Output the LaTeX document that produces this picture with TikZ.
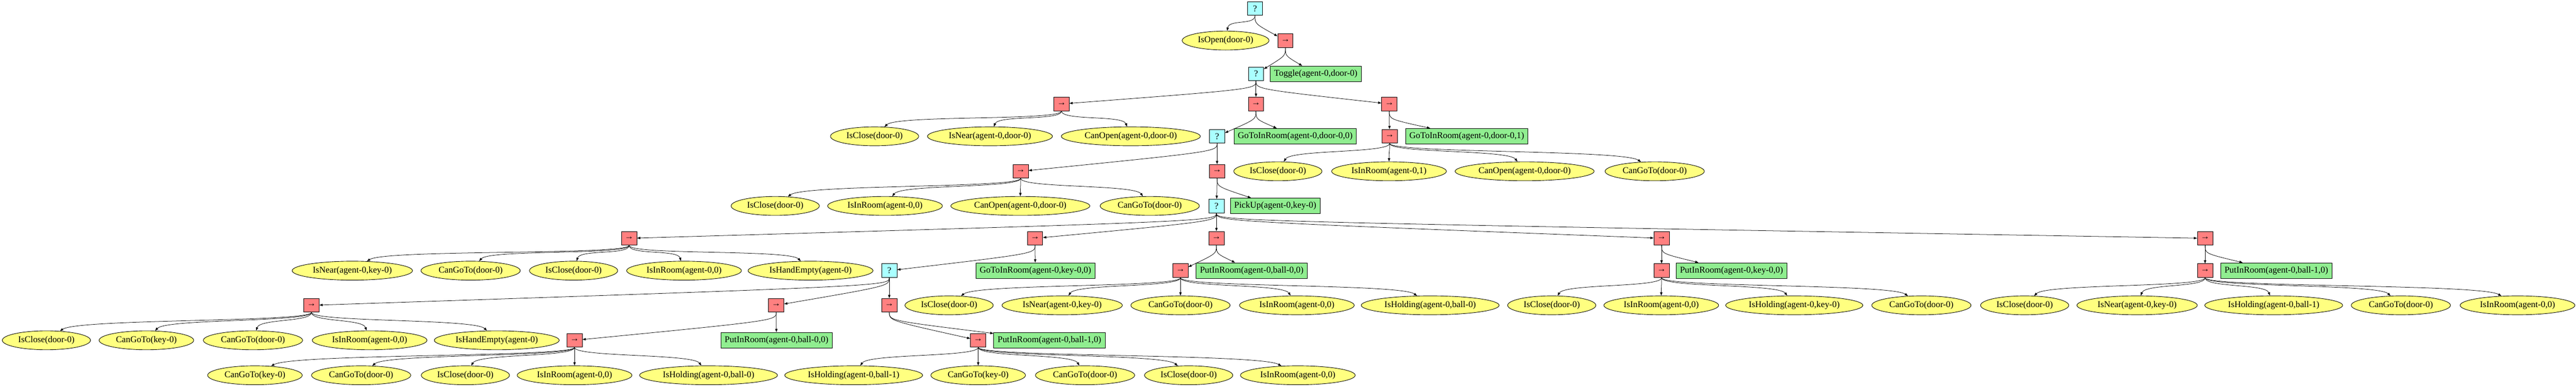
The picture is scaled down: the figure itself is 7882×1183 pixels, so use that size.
\documentclass[tikz,border=0pt]{standalone}
\usepackage{fontspec}
\setmainfont{Liberation Serif}
\usetikzlibrary{shapes.geometric,arrows.meta,calc}
\definecolor{selc}{HTML}{AAFFFF}
\definecolor{seqc}{HTML}{FF8080}
\definecolor{actc}{HTML}{90EE90}
\definecolor{condc}{HTML}{FFFF80}
\tikzset{
  base/.style={draw=black,line width=0.7pt,font=\fontsize{13.65}{16}\selectfont,text=black},
  cond/.style={base,ellipse,fill=condc,inner xsep=4.65pt,inner ysep=0pt,minimum height=29pt},
  act/.style={base,rectangle,fill=actc,inner xsep=6pt,inner ysep=0pt,minimum height=24pt},
  seqn/.style={base,rectangle,fill=seqc,inner sep=0pt,minimum width=23.5pt,minimum height=21pt},
  seln/.style={base,rectangle,fill=selc,inner sep=0pt,minimum width=23.5pt,minimum height=21pt},
  edge/.style={draw=black,line width=0.6pt,-{Triangle[length=5pt,width=3.6pt]}}
}
\begin{document}
\begin{tikzpicture}[x=0.5pt,y=-0.5pt]
\fill[white] (0,0) rectangle (7882,1183);
\useasboundingbox (0,0) rectangle (7882,1183);
% row 0
\node[seln] (root) at (3840,26) {?};
% row 1
\node[cond] (c1) at (3750,124) {IsOpen(door-0)};
\node[seqn] (s1) at (3933,124) {→};
% row 2
\node[seln] (f2) at (3843,226) {?};
\node[act] (a2) at (4026,226) {Toggle(agent-0,door-0)};
% row 3
\node[seqn] (sA) at (3248,318) {→};
\node[seqn] (sB) at (3843,318) {→};
\node[seqn] (sC) at (4251,318) {→};
% row 4
\node[cond] (c4a) at (2676,417) {IsClose(door-0)};
\node[cond] (c4b) at (3029,417) {IsNear(agent-0,door-0)};
\node[cond] (c4c) at (3460,417) {CanOpen(agent-0,door-0)};
\node[seln] (f4) at (3724,417) {?};
\node[act] (a4a) at (3963,417) {GoToInRoom(agent-0,door-0,0)};
\node[seqn] (s4) at (4252,417) {→};
\node[act] (a4b) at (4488,417) {GoToInRoom(agent-0,door-0,1)};
% row 5
\node[seqn] (s5a) at (3123,524) {→};
\node[seqn] (s5b) at (3724,524) {→};
\node[cond] (c5a) at (3910,524) {IsClose(door-0)};
\node[cond] (c5b) at (4250,524) {IsInRoom(agent-0,1)};
\node[cond] (c5c) at (4665,524) {CanOpen(agent-0,door-0)};
\node[cond] (c5d) at (5063,524) {CanGoTo(door-0)};
% row 6
\node[cond] (c6a) at (2372,630) {IsClose(door-0)};
\node[cond] (c6b) at (2708,630) {IsInRoom(agent-0,0)};
\node[cond] (c6c) at (3122,630) {CanOpen(agent-0,door-0)};
\node[cond] (c6d) at (3518,630) {CanGoTo(door-0)};
\node[seln] (f6) at (3722,630) {?};
\node[act] (a6) at (3902,630) {PickUp(agent-0,key-0)};
% row 7
\node[seqn] (sP) at (1925,729) {→};
\node[seqn] (sQ) at (3167,729) {→};
\node[seqn] (sR) at (3722,729) {→};
\node[seqn] (sZ) at (5084,729) {→};
\node[seqn] (sAA) at (6747,729) {→};
% row 8
\node[cond] (c8a) at (1078,828) {IsNear(agent-0,key-0)};
\node[cond] (c8b) at (1440,828) {CanGoTo(door-0)};
\node[cond] (c8c) at (1755,828) {IsClose(door-0)};
\node[cond] (c8d) at (2093,828) {IsInRoom(agent-0,0)};
\node[cond] (c8e) at (2480,828) {IsHandEmpty(agent-0)};
\node[seln] (f8) at (2721,828) {?};
\node[act] (a8a) at (3168,828) {GoToInRoom(agent-0,key-0,0)};
\node[seqn] (sT) at (3612,828) {→};
\node[act] (a8b) at (3830,828) {PutInRoom(agent-0,ball-0,0)};
\node[seqn] (sZ2) at (5084,828) {→};
\node[act] (a8c) at (5298,828) {PutInRoom(agent-0,key-0,0)};
\node[seqn] (sAB) at (6747,828) {→};
\node[act] (a8d) at (6965,828) {PutInRoom(agent-0,ball-1,0)};
% row 9
\node[seqn] (sU) at (953,934) {→};
\node[seqn] (sV) at (2375,934) {→};
\node[seqn] (sX) at (2721,934) {→};
\node[cond] (c9a) at (2904,934) {IsClose(door-0)};
\node[cond] (c9b) at (3250,934) {IsNear(agent-0,key-0)};
\node[cond] (c9c) at (3612,934) {CanGoTo(door-0)};
\node[cond] (c9d) at (3968,934) {IsInRoom(agent-0,0)};
\node[cond] (c9e) at (4376,934) {IsHolding(agent-0,ball-0)};
\node[cond] (c9f) at (4748,934) {IsClose(door-0)};
\node[cond] (c9g) at (5083,934) {IsInRoom(agent-0,0)};
\node[cond] (c9h) at (5490,934) {IsHolding(agent-0,key-0)};
\node[cond] (c9i) at (5879,934) {CanGoTo(door-0)};
\node[cond] (c9j) at (6195,934) {IsClose(door-0)};
\node[cond] (c9k) at (6539,934) {IsNear(agent-0,key-0)};
\node[cond] (c9l) at (6957,934) {IsHolding(agent-0,ball-1)};
\node[cond] (c9m) at (7346,934) {CanGoTo(door-0)};
\node[cond] (c9n) at (7703,934) {IsInRoom(agent-0,0)};
% row 10
\node[cond] (c10a) at (142,1041) {IsClose(door-0)};
\node[cond] (c10b) at (448,1041) {CanGoTo(key-0)};
\node[cond] (c10c) at (774,1041) {CanGoTo(door-0)};
\node[cond] (c10d) at (1131,1041) {IsInRoom(agent-0,0)};
\node[cond] (c10e) at (1520,1041) {IsHandEmpty(agent-0)};
\node[seqn] (sW) at (1758,1041) {→};
\node[act] (a10a) at (2376,1041) {PutInRoom(agent-0,ball-0,0)};
\node[seqn] (sY) at (2993,1041) {→};
\node[act] (a10b) at (3211,1041) {PutInRoom(agent-0,ball-1,0)};
% row 11
\node[cond] (c11a) at (780,1148) {CanGoTo(key-0)};
\node[cond] (c11b) at (1105,1148) {CanGoTo(door-0)};
\node[cond] (c11c) at (1424,1148) {IsClose(door-0)};
\node[cond] (c11d) at (1758,1148) {IsInRoom(agent-0,0)};
\node[cond] (c11e) at (2168,1148) {IsHolding(agent-0,ball-0)};
\node[cond] (c11f) at (2612,1148) {IsHolding(agent-0,ball-1)};
\node[cond] (c11g) at (2993,1148) {CanGoTo(key-0)};
\node[cond] (c11h) at (3320,1148) {CanGoTo(door-0)};
\node[cond] (c11i) at (3637,1148) {IsClose(door-0)};
\node[cond] (c11j) at (3971,1148) {IsInRoom(agent-0,0)};
% edges to box nodes
\foreach \p/\c in {root/s1,s1/f2,s1/a2,f2/sA,f2/sB,f2/sC,
  sB/f4,sB/a4a,sC/s4,sC/a4b,f4/s5a,f4/s5b,s5b/f6,s5b/a6,
  f6/sP,f6/sQ,f6/sR,f6/sZ,f6/sAA,
  sQ/f8,sQ/a8a,sR/sT,sR/a8b,sZ/sZ2,sZ/a8c,sAA/sAB,sAA/a8d,
  f8/sU,f8/sV,f8/sX,sV/sW,sV/a10a,sX/sY,sX/a10b}
  \draw[edge] (\p.south) .. controls +(0,25) .. (\c);
% edges to condition ellipses
\foreach \p/\c in {root/c1,sA/c4a,sA/c4b,sA/c4c,
  s4/c5a,s4/c5b,s4/c5c,s4/c5d,
  s5a/c6a,s5a/c6b,s5a/c6c,s5a/c6d,
  sP/c8a,sP/c8b,sP/c8c,sP/c8d,sP/c8e,
  sT/c9a,sT/c9b,sT/c9c,sT/c9d,sT/c9e,
  sZ2/c9f,sZ2/c9g,sZ2/c9h,sZ2/c9i,
  sAB/c9j,sAB/c9k,sAB/c9l,sAB/c9m,sAB/c9n,
  sU/c10a,sU/c10b,sU/c10c,sU/c10d,sU/c10e,
  sW/c11a,sW/c11b,sW/c11c,sW/c11d,sW/c11e,
  sY/c11f,sY/c11g,sY/c11h,sY/c11i,sY/c11j}
  \draw[edge] (\p.south) .. controls +(0,30) and ($(\c.north)!0.12!(\p.south)+(0,-30)$) .. (\c);
\end{tikzpicture}
\end{document}
